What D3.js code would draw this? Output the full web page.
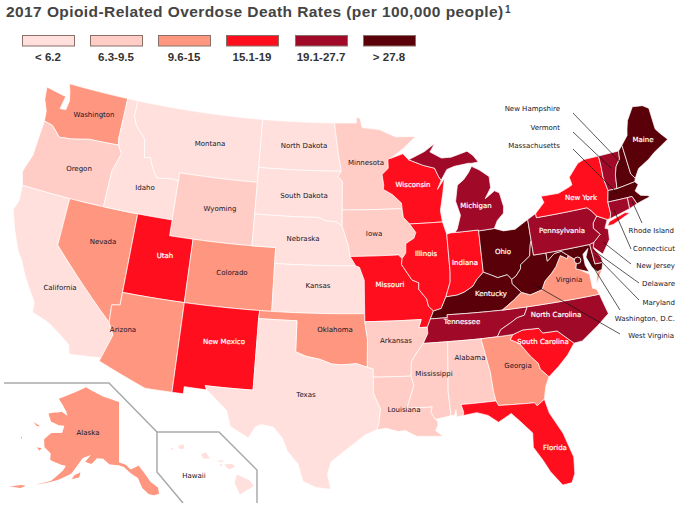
<!DOCTYPE html>
<html><head><meta charset="utf-8">
<script src="https://cdn.jsdelivr.net/npm/d3@7"></script>
<style>html,body{margin:0;padding:0;background:#fff}svg{display:block}</style>
</head><body><svg id="c" width="695" height="520"></svg>
<script>
// ---------- values ----------
const legendLabels = ["< 6.2","6.3-9.5","9.6-15","15.1-19","19.1-27.7","> 27.8"];
const legendColors = ["#ffe0dc","#ffcdc5","#ff9780","#ff0f1e","#a00a28","#5a0008"];
const class0 = ["California","Idaho","Montana","North Dakota","South Dakota","Nebraska","Kansas","Texas","Hawaii"];
const class1 = ["Oregon","Wyoming","Minnesota","Iowa","Arkansas","Louisiana","Mississippi","Alabama"];
const class2 = ["Washington","Nevada","Colorado","Arizona","Oklahoma","Georgia","Virginia","Alaska"];
const class3 = ["Utah","New Mexico","Wisconsin","Illinois","Indiana","Missouri","New York","South Carolina","Florida"];
const class4 = ["Michigan","Pennsylvania","Tennessee","North Carolina","Vermont","Connecticut","Rhode Island","New Jersey","Delaware"];
const class5 = ["Ohio","Kentucky","West Virginia","Maine","New Hampshire","Massachusetts","Maryland","Washington, D.C."];
const classes = [class0,class1,class2,class3,class4,class5];

// ---------- shared borders, lon/lat ----------
const rev = a => a.slice().reverse();
const mnWi = [[-92.0,46.7],[-92.29,46.66],[-92.29,46.07],[-92.87,45.7],[-92.75,45.0],[-92.8,44.75],[-92.0,44.4],[-91.25,43.85],[-91.22,43.5]];
const wiIa = [[-91.22,43.5],[-91.15,42.95],[-90.64,42.51]];
const iaIl = [[-90.64,42.51],[-90.15,41.95],[-90.34,41.6],[-91.05,41.3],[-91.1,40.7],[-91.42,40.38]];
const moIl = [[-91.42,40.38],[-91.5,40.0],[-90.7,39.0],[-90.15,38.8],[-90.2,38.4],[-89.6,37.75],[-89.5,37.3],[-89.13,36.98]];
const moKyTn = [[-89.13,36.98],[-89.42,36.5],[-89.7,36.0]];
const arTn = [[-89.7,36.0],[-89.7,35.6],[-90.1,35.0]];
const arMs = [[-90.1,35.0],[-90.6,34.5],[-91.1,33.9],[-91.17,33.0]];
const laMs = [[-91.17,33.0],[-91.0,32.4],[-91.6,31.0],[-89.73,31.0],[-89.85,30.65],[-89.55,30.2]];
const ilKy = [[-89.13,36.98],[-88.5,37.1],[-88.05,37.8]];
const inKy = [[-88.05,37.8],[-87.1,37.85],[-86.5,38.0],[-85.8,38.3],[-85.4,38.7],[-84.82,39.1]];
const ohKy = [[-84.82,39.1],[-84.3,38.9],[-83.7,38.65],[-82.9,38.75],[-82.59,38.42]];
const ohWv = [[-82.59,38.42],[-82.2,38.6],[-81.75,39.0],[-81.7,39.25],[-80.85,39.7],[-80.65,40.4],[-80.52,40.64]];
const kyWv = [[-82.59,38.42],[-82.6,38.15],[-81.97,37.54]];
const kyVa = [[-81.97,37.54],[-82.7,37.1],[-83.68,36.6]];
const kyTn = [[-83.68,36.6],[-86.5,36.65],[-88.07,36.68],[-88.07,36.5],[-89.42,36.5]];
const vaTn = [[-83.68,36.6],[-81.68,36.59]];
const vaNc = [[-81.68,36.59],[-75.87,36.55]];
const tnNc = [[-81.68,36.59],[-82.0,36.1],[-82.6,36.0],[-83.1,35.77],[-84.0,35.4],[-84.32,34.99]];
const tnGaAl = [[-84.32,34.99],[-85.6,34.98],[-88.2,35.0],[-90.1,35.0]];
const vaWv = [[-81.97,37.54],[-81.3,37.3],[-80.3,37.5],[-79.95,38.0],[-79.3,38.42],[-78.87,38.77],[-78.35,39.4],[-77.83,39.13],[-77.72,39.32]];
const mdWv = [[-77.72,39.32],[-78.2,39.65],[-78.8,39.6],[-79.48,39.2],[-79.48,39.72]];
const nyPa = [[-79.76,42.27],[-79.76,42.0],[-75.35,42.0],[-75.05,41.75],[-74.7,41.36]];
const njPa = [[-74.7,41.36],[-75.13,40.97],[-75.2,40.65],[-74.75,40.2],[-75.4,39.8]];
const ncSc = [[-78.55,33.86],[-79.67,34.8],[-80.8,34.82],[-81.05,35.15],[-82.3,35.2],[-83.1,35.0]];
const gaSc = [[-83.1,35.0],[-83.35,34.7],[-82.7,34.4],[-82.0,33.5],[-81.5,33.0],[-81.4,32.6],[-80.85,32.05]];
const flGa = [[-84.86,30.7],[-82.2,30.57],[-82.05,30.36],[-81.45,30.7]];
const alGa = [[-85.6,34.98],[-85.18,32.87],[-85.1,31.55],[-85.0,31.0]];
const txOk = [[-100.0,34.56],[-99.2,34.3],[-98.1,34.13],[-97.2,33.85],[-96.5,33.8],[-95.3,33.88],[-94.48,33.64]];
const txLa = [[-94.04,33.55],[-94.04,32.0],[-93.55,31.0],[-93.7,30.1],[-93.85,29.7]];
const arOk = [[-94.62,36.5],[-94.43,35.4],[-94.48,33.64]];
const moKs = [[-95.31,40.0],[-95.0,39.9],[-94.62,39.1],[-94.62,37.0]];
const neIa = [[-96.45,42.49],[-96.1,41.7],[-95.9,41.2],[-95.77,40.58]];
const sdNe = [[-96.45,42.49],[-97.0,42.75],[-97.9,42.8],[-98.5,43.0],[-104.05,43.0]];
const mnSd = [[-96.45,43.5],[-96.45,45.3],[-96.85,45.6],[-96.56,45.94]];
const mnNd = [[-96.56,45.94],[-96.8,46.9],[-97.23,49.0]];
const wiMi = [[-90.4,46.55],[-89.1,46.13],[-88.1,45.9],[-87.8,45.35],[-87.6,45.1]];
const ilIn = [[-87.53,41.7],[-87.53,39.35],[-87.6,38.7],[-88.05,37.8]];
const inOh = [[-84.8,41.7],[-84.82,39.1]];
const wiIl = [[-90.64,42.51],[-87.8,42.49]];
const waOr = [[-124.0,46.27],[-123.2,46.15],[-122.8,45.9],[-122.3,45.55],[-121.2,45.65],[-119.6,45.92],[-119.0,45.93],[-116.92,45.99]];
const idOr = [[-116.92,45.99],[-116.5,45.5],[-117.0,44.3],[-117.03,42.0]];
const idMt = [[-116.05,49.0],[-116.05,48.0],[-115.7,47.45],[-114.7,46.7],[-114.4,45.55],[-113.9,45.65],[-113.45,44.95],[-113.0,44.45],[-111.5,44.55],[-111.05,44.48]];
const azCa = [[-114.63,35.0],[-114.15,34.27],[-114.72,32.72]];
const azNv = [[-114.05,37.0],[-114.05,36.2],[-114.7,36.1],[-114.63,35.0]];
const vtNh = [[-71.5,45.0],[-71.6,44.5],[-72.05,44.1],[-72.3,43.6],[-72.46,42.73]];
const nyVt = [[-73.35,45.0],[-73.35,44.3],[-73.4,43.6],[-73.25,42.75]];
const nhMe = [[-71.08,45.3],[-70.98,43.4],[-70.7,43.07]];

// ---------- state outlines, lon/lat ----------
const outlines = {
 "Washington":[[[-124.7,48.38],[-123.1,48.18],[-122.75,48.15],[-122.95,47.3],[-122.4,47.35],[-122.3,47.95],[-122.5,48.5],[-122.75,49.0],[-117.03,49.0],[-117.04,46.42],...rev(waOr),[-124.1,46.9],[-124.55,47.6]]],
 "Oregon":[[...waOr,...idOr,[-124.2,42.0],[-124.55,42.85],[-124.1,44.0]]],
 "California":[[[-124.2,42.0],[-120.0,42.0],[-120.0,39.0],...azCa,[-117.12,32.53],[-117.3,33.1],[-118.4,33.75],[-119.2,34.15],[-120.6,34.55],[-120.65,35.15],[-121.9,36.6],[-122.5,37.5],[-123.0,38.0],[-123.8,39.3],[-124.35,40.4],[-124.1,41.0]]],
 "Nevada":[[[-120.0,42.0],[-114.04,42.0],...azNv,[-120.0,39.0]]],
 "Idaho":[[[-117.03,49.0],...idMt,[-111.05,42.0],[-117.03,42.0],...rev(idOr),[-117.04,46.42]]],
 "Montana":[[...idMt,[-111.05,45.0],[-104.05,45.0],[-104.05,49.0]]],
 "Wyoming":[[[-111.05,45.0],[-104.05,45.0],[-104.05,41.0],[-111.05,41.0]]],
 "Utah":[[[-114.04,42.0],[-111.05,42.0],[-111.05,41.0],[-109.05,41.0],[-109.05,37.0],[-114.05,37.0]]],
 "Colorado":[[[-109.05,41.0],[-102.05,41.0],[-102.04,37.0],[-109.05,37.0]]],
 "Arizona":[[[-114.05,37.0],[-109.05,37.0],[-109.05,31.33],[-111.07,31.33],[-114.8,32.5],...rev(azCa),...rev(azNv).slice(1,-1)]],
 "New Mexico":[[[-109.05,37.0],[-103.0,37.0],[-103.04,36.5],[-103.06,32.0],[-106.65,32.0],[-106.5,31.75],[-108.2,31.78],[-108.2,31.33],[-109.05,31.33]]],
 "North Dakota":[[[-104.05,49.0],[-97.23,49.0],...rev(mnNd),[-104.05,45.94]]],
 "South Dakota":[[[-104.05,45.94],[-96.56,45.94],...rev(mnSd),...sdNe]],
 "Nebraska":[[[-104.05,43.0],...rev(sdNe).slice(1),...neIa.slice(1),[-95.31,40.0],[-102.05,40.0],[-102.05,41.0],[-104.05,41.0]]],
 "Kansas":[[[-102.05,40.0],...moKs,[-102.04,37.0]]],
 "Oklahoma":[[[-103.0,37.0],[-94.62,37.0],...arOk,...rev(txOk).slice(1),[-100.0,36.5],[-103.04,36.5]]],
 "Texas":[[[-106.65,32.0],[-103.06,32.0],[-103.04,36.5],[-100.0,36.5],...txOk,...txLa,[-94.7,29.4],[-95.9,28.6],[-97.15,27.7],[-97.4,26.9],[-97.15,25.95],[-98.2,26.05],[-99.1,26.4],[-99.5,27.5],[-100.3,28.3],[-100.7,29.1],[-101.4,29.77],[-102.3,29.88],[-102.7,29.7],[-103.15,28.98],[-104.5,29.6],[-104.9,30.6],[-106.5,31.75]]],
 "Minnesota":[[[-97.23,49.0],[-95.15,49.0],[-95.15,49.38],[-94.8,49.3],[-94.6,48.7],[-93.0,48.55],[-91.5,48.05],[-89.6,48.0],[-90.8,47.3],...mnWi,[-96.45,43.5],...mnSd.slice(1),...mnNd.slice(1,-1)]],
 "Iowa":[[[-96.45,43.5],[-91.22,43.5],...wiIa.slice(1),...iaIl.slice(1),[-91.73,40.61],...rev(neIa)]],
 "Missouri":[[[-95.77,40.58],[-91.73,40.61],...moIl,...moKyTn.slice(1),[-90.38,36.0],[-90.15,36.5],[-94.62,36.5],...rev(moKs)]],
 "Arkansas":[[[-94.62,36.5],[-90.15,36.5],[-90.38,36.0],...arTn,...arMs.slice(1),[-94.04,33.02],[-94.04,33.55],[-94.48,33.64],[-94.43,35.4]]],
 "Louisiana":[[[-94.04,33.02],...laMs,[-89.4,30.05],[-89.4,29.8],[-89.6,29.5],[-89.1,29.1],[-90.1,29.15],[-91.0,29.2],[-91.8,29.6],[-92.3,29.55],[-93.2,29.78],[-93.85,29.7],[-93.7,30.1],[-93.55,31.0],[-94.04,32.0]]],
 "Wisconsin":[[...rev(mnWi),[-90.9,46.95],...wiMi,[-88.0,44.55],[-87.3,45.2],[-87.55,44.3],[-87.9,43.2],[-87.8,42.49],...rev(wiIl),...rev(wiIa).slice(1,-1)]],
 "Illinois":[[...wiIl,...ilIn,...rev(ilKy),...rev(moIl),...rev(iaIl).slice(0,-1)]],
 "Indiana":[[[-87.53,41.7],[-87.2,41.76],[-86.82,41.76],[-84.8,41.76],...inOh,...rev(inKy),...rev(ilIn).slice(1,-1)]],
 "Ohio":[[[-84.8,41.7],[-83.45,41.73],[-82.7,41.5],[-81.7,41.5],[-80.52,41.98],...rev(ohWv),...rev(ohKy)]],
 "Michigan":[[[-86.82,41.76],[-84.8,41.76],[-84.8,41.7],[-83.45,41.73],[-83.1,42.2],[-82.5,42.6],[-82.4,43.0],[-82.6,43.9],[-83.0,44.07],[-83.9,43.65],[-83.3,44.3],[-83.3,45.0],[-84.1,45.5],[-84.75,45.78],[-85.1,45.4],[-85.6,45.0],[-86.2,44.7],[-86.5,43.7],[-86.2,42.8],[-86.6,41.95]],
   [...wiMi,[-87.0,45.75],[-86.3,45.9],[-85.0,46.0],[-84.7,45.97],[-84.1,46.0],[-84.5,46.45],[-85.0,46.77],[-86.5,46.5],[-87.4,46.5],[-88.4,46.95],[-87.9,47.45],[-88.9,47.0]]],
 "Kentucky":[[...ilKy,...inKy.slice(1),...ohKy.slice(1),...kyWv.slice(1),...kyVa.slice(1),...kyTn.slice(1)]],
 "Tennessee":[[[-89.7,36.0],[-89.42,36.5],...rev(kyTn).slice(1),...vaTn.slice(1),...tnNc.slice(1),...tnGaAl.slice(1),...rev(arTn).slice(1,-1)]],
 "Mississippi":[[[-90.1,35.0],[-88.2,35.0],[-88.47,31.9],[-88.4,30.35],...rev(laMs),...rev(arMs).slice(1,-1)]],
 "Alabama":[[[-88.2,35.0],...alGa,[-87.6,31.0],[-87.45,30.5],[-87.5,30.3],[-88.0,30.25],[-88.0,30.7],[-88.15,30.35],[-88.4,30.35],[-88.47,31.9]]],
 "Georgia":[[...alGa.slice(0,1),[-84.32,34.99],...gaSc,[-81.2,31.5],...rev(flGa),[-85.0,31.0],...rev(alGa).slice(1,-1)]],
 "Florida":[[[-87.6,31.0],[-85.0,31.0],...flGa,[-81.25,29.8],[-80.5,28.4],[-80.03,26.8],[-80.15,25.75],[-80.45,25.2],[-81.1,25.15],[-81.8,26.1],[-82.2,26.9],[-82.75,27.8],[-82.65,28.7],[-83.4,29.5],[-84.0,30.1],[-85.0,29.65],[-85.7,30.15],[-86.5,30.4],[-87.5,30.3],[-87.45,30.5]]],
 "South Carolina":[[...ncSc,...gaSc.slice(1),[-80.0,32.6],[-79.2,33.2]]],
 "North Carolina":[[...vaNc,[-75.5,35.25],[-76.5,34.65],[-77.9,33.9],...ncSc,[-84.32,34.99],...rev(tnNc).slice(1,-1)]],
 "Virginia":[[[-83.68,36.6],...vaNc,[-76.0,36.9],[-76.3,37.0],[-76.3,37.9],[-77.0,38.3],[-77.3,38.4],[-77.1,38.9],...rev(vaWv),...rev(kyVa).slice(1,-1)],
   [[-75.95,37.15],[-75.65,37.95],[-75.25,38.03]]],
 "West Virginia":[[...ohWv,[-80.52,39.72],[-79.48,39.72],...rev(mdWv).slice(1),...rev(vaWv).slice(1),...rev(kyWv).slice(1,-1)]],
 "Maryland":[[[-79.48,39.72],[-75.79,39.72],[-75.7,38.46],[-75.05,38.45],[-75.25,38.03],[-75.65,37.95],[-76.0,38.3],[-76.3,39.0],[-76.0,39.5],[-76.5,39.2],[-76.5,38.5],[-76.3,38.05],[-77.0,38.3],[-77.3,38.4],[-77.1,38.9],...mdWv.slice(0,-1)]],
 "Delaware":[[[-75.79,39.72],[-75.4,39.8],[-75.55,39.45],[-75.1,38.8],[-75.05,38.45],[-75.7,38.46]]],
 "New Jersey":[[[-74.7,41.36],[-73.9,41.0],[-74.25,40.5],[-74.0,40.4],[-74.1,39.75],[-74.9,38.95],[-75.55,39.5],...rev(njPa).slice(0,-1)]],
 "Pennsylvania":[[[-80.52,41.98],...nyPa,...njPa.slice(1),[-75.79,39.72],[-80.52,39.72],[-80.52,40.64]]],
 "New York":[[[-79.76,42.27],[-78.9,42.85],[-79.05,43.27],[-77.5,43.25],[-76.5,43.5],[-76.2,43.6],[-76.3,44.1],[-75.3,44.85],[-74.7,45.0],...nyVt,[-73.5,42.05],[-73.5,41.3],[-73.65,41.0],[-73.9,41.0],...rev(nyPa).slice(0,-1)],
   [[-74.0,40.6],[-73.75,40.85],[-72.3,41.15],[-71.9,41.07],[-73.5,40.6]]],
 "Vermont":[[[-73.35,45.0],...vtNh,...rev(nyVt).slice(0,-1)]],
 "New Hampshire":[[...vtNh.slice(0,1),...nhMe,[-70.82,42.87],...rev(vtNh).slice(0,-1)]],
 "Maine":[[...nhMe.slice(0,1),[-70.4,45.8],[-70.25,46.2],[-70.0,46.7],[-69.22,47.46],[-68.3,47.35],[-67.8,47.07],[-67.8,45.7],[-67.45,45.3],[-67.0,44.85],[-68.5,44.3],[-69.1,44.0],[-70.2,43.6],[-70.7,43.07],[-70.98,43.4]]],
 "Massachusetts":[[[-73.5,42.05],[-73.25,42.75],[-72.46,42.73],[-70.82,42.87],[-70.6,42.65],[-71.0,42.3],[-70.65,41.95],[-70.0,41.8],[-70.2,42.07],[-69.95,41.7],[-70.6,41.6],[-71.13,41.5],[-71.38,42.02],[-71.8,42.02]]],
 "Rhode Island":[[[-71.8,42.02],[-71.38,42.02],[-71.13,41.5],[-71.85,41.32]]],
 "Connecticut":[[[-73.5,42.05],[-71.8,42.02],[-71.85,41.32],[-73.65,41.0],[-73.5,41.3]]]
};
const alaskaRings = [
 [[-141,69.65],[-144,70.0],[-148.5,70.4],[-152,70.85],[-156.5,71.35],[-160,70.4],[-163,69.5],[-166.5,68.35],[-164,67.6],[-162,66.9],[-161,66.3],[-163.5,66.6],[-166,66.1],[-168,65.6],[-166,64.6],[-163,64.5],[-161,64.7],[-161,63.5],[-164.5,63.0],[-166,61.7],[-165,60.6],[-162.5,60.0],[-162,59.0],[-158.5,58.8],[-157,58.8],[-157.5,58.0],[-160,56.0],[-163.5,54.8],[-162,55.2],[-158,56.5],[-155,57.8],[-153.9,59.0],[-152.5,60.5],[-150,61.2],[-151.5,60.0],[-149.5,59.8],[-148,60.8],[-146,60.8],[-144,60.0],[-141,59.9],[-139.5,59.6],[-137.5,58.6],[-135.5,57.8],[-134.5,56.2],[-133,55.2],[-131.5,54.9],[-130.2,55.0],[-130.2,56.0],[-132,57.0],[-133.5,58.5],[-135,59.7],[-137.5,59.2],[-139,60.0],[-141,60.3]],
 [[-154.5,57.0],[-152.5,57.5],[-152.4,58.3],[-154,57.7]],
 [[-167.2,60.1],[-165.7,60.3],[-166,59.8]],
 [[-171.7,63.5],[-168.9,63.3],[-170,63.1]],
 [[-173,60.65],[-172.5,60.4],[-172.9,60.3]],
 [[-170,52.9],[-167,53.4],[-166,54.0],[-167,53.9],[-169,53.2]]
];
const hawaiiRings = [
 [[-155.9,20.25],[-155.1,19.9],[-154.8,19.5],[-155.7,18.95],[-156.05,19.7]],
 [[-156.7,20.9],[-156.25,20.95],[-156.0,20.75],[-156.4,20.58],[-156.65,20.8]],
 [[-158.25,21.55],[-157.95,21.7],[-157.65,21.3],[-158.1,21.3]],
 [[-159.75,22.1],[-159.4,22.23],[-159.3,21.95],[-159.6,21.9]],
 [[-160.25,21.95],[-160.05,22.0],[-160.1,21.85]],
 [[-157.3,21.15],[-156.75,21.17],[-156.85,21.05]],
 [[-157.05,20.9],[-156.85,20.92],[-156.9,20.75]]
];

// ---------- label and leader placement ----------
const innerLabels = [["Washington",94,115],["Oregon",79,169],["Idaho",145,188],["Montana",210,144],["North Dakota",304,146],["South Dakota",304,196],["Wyoming",220,209],["Nebraska",303,239],["Minnesota",366,163],["Iowa",374,234],["Wisconsin",413,185],["Michigan",476,206],["California",60,288],["Nevada",103,242],["Utah",165,256],["Colorado",232,273],["Kansas",318,286],["Missouri",390,285],["Illinois",426,254],["Indiana",465,263],["Ohio",503,252],["Kentucky",491,294],["Tennessee",462,322],["Virginia",569,280],["North Carolina",556,315],["South Carolina",543,342],["Georgia",518,366],["Florida",555,448],["Alabama",470,358],["Mississippi",434,374],["Louisiana",404,410],["Arkansas",396,341],["Oklahoma",335,330],["Texas",306,395],["New Mexico",224,342],["Arizona",123,330],["Pennsylvania",562,231],["New York",581,198],["Maine",643,140],["Alaska",88,433],["Hawaii",194,476]];
const leftLabels = [["New Hampshire",560,109,573,113,624,166],["Vermont",560,128,573,132,611,168],["Massachusetts",560,146,573,149,617,193]];
const rightLabels = [["Rhode Island",674,231,642,223,632,201],["Connecticut",675,249,631,249,614,210],["New Jersey",675,266,631,264,603,242],["Delaware",675,284,639,283,593,250],["Maryland",675,303,639,300,595,255],["Washington, D.C.",675,319,620,310,587,257],["West Virginia",674,336,620,334,533,284]];
const insetFrame = [[[4,383],[109,383],[157,432],[219,432],[257,470],[257,503]],[[157,432],[157,472],[183,503]]];
const legendX = [22,90,158,226,295,363];

// ---------- drawing ----------
const svg = d3.select("#c");
const colorOf = {};
classes.forEach((names,i)=>names.forEach(n=>colorOf[n]=legendColors[i]));

const conus = d3.geoAlbers().parallels([29.5,45.5]).rotate([96,0]).center([0,37.5]).scale(908).translate([347.4,305.8]);
const alaskaProj = d3.geoAlbers().parallels([55,65]).rotate([141,0]).center([0,69.65]).scale(372).translate([119,402]);
const hawaiiProj = d3.geoEquirectangular().rotate([157,0]).center([0,21]).scale(880).translate([220,463]);

// add vertices along long straight lon/lat edges so parallels stay curved
function dense(ring){
  const out=[];
  ring.forEach((p,i)=>{
    const q=ring[(i+1)%ring.length];
    const n=Math.max(1,Math.ceil(Math.max(Math.abs(q[0]-p[0]),Math.abs(q[1]-p[1]))));
    for(let k=0;k<n;k++) out.push([p[0]+(q[0]-p[0])*k/n,p[1]+(q[1]-p[1])*k/n]);
  });
  return out;
}
function feature(rings){
  const polys=rings.map(r=>{
    const ring=dense(r); ring.push(ring[0]);
    const f={type:"Polygon",coordinates:[ring]};
    return d3.geoArea(f)>2*Math.PI ? [ring.slice().reverse()] : [ring];
  });
  return {type:"MultiPolygon",coordinates:polys};
}
const mapG = svg.append("g");
const stateList = Object.keys(outlines);
mapG.selectAll("path.state").data(stateList).join("path").attr("class","state")
  .attr("d",n=>d3.geoPath(conus)(feature(outlines[n])))
  .attr("fill",n=>colorOf[n]).attr("stroke","#fff").attr("stroke-width",0.7).attr("stroke-linejoin","round");
mapG.append("path").attr("d",d3.geoPath(alaskaProj)(feature(alaskaRings))).attr("fill",colorOf["Alaska"]);
mapG.append("path").attr("d",d3.geoPath(hawaiiProj)(feature(hawaiiRings))).attr("fill",colorOf["Hawaii"]);
const dc = conus([-77.03,38.9]);
mapG.append("circle").attr("cx",dc[0]).attr("cy",dc[1]).attr("r",3.3).attr("fill",colorOf["Washington, D.C."]).attr("stroke","#fff").attr("stroke-width",0.9);

svg.append("g").selectAll("path").data(insetFrame).join("path")
  .attr("d",d3.line()).attr("fill","none").attr("stroke","#aaa").attr("stroke-width",1.5);

const labelFont="'DejaVu Sans',Verdana,sans-serif";
const lights=new Set([...class3,...class4,...class5]);
svg.append("g").selectAll("text").data(innerLabels).join("text")
  .attr("x",d=>d[1]).attr("y",d=>d[2]).attr("dy","0.35em").attr("text-anchor","middle")
  .attr("font-family",labelFont).attr("font-size",7)
  .attr("stroke",d=>lights.has(d[0])?"#fff":"none").attr("stroke-width",0.2)
  .attr("fill",d=>lights.has(d[0])?"#fff":"#141428").text(d=>d[0]);

const leaders=[...leftLabels,...rightLabels];
svg.append("g").selectAll("line").data(leaders).join("line")
  .attr("x1",d=>d[3]).attr("y1",d=>d[4]).attr("x2",d=>d[5]).attr("y2",d=>d[6])
  .attr("stroke","#111").attr("stroke-width",0.7);
svg.append("g").selectAll("text.out").data(leaders).join("text").attr("class","out")
  .attr("x",d=>d[1]).attr("y",d=>d[2]).attr("dy","0.35em").attr("text-anchor","end")
  .attr("font-family",labelFont).attr("font-size",7).attr("fill","#141428").text(d=>d[0]);

// title
svg.append("text").attr("x",6).attr("y",17).attr("font-family","'Liberation Sans',Arial,sans-serif")
  .attr("font-weight","bold").attr("font-size",15.5).attr("letter-spacing",0.42).attr("fill","#444").text("2017 Opioid-Related Overdose Death Rates (per 100,000 people)");
svg.append("text").attr("x",505).attr("y",13).attr("font-family","'Liberation Sans',Arial,sans-serif")
  .attr("font-weight","bold").attr("font-size",10).attr("fill","#444").text("1");

// legend
const leg=svg.append("g").selectAll("g").data(legendLabels).join("g");
leg.append("rect").attr("x",(d,i)=>legendX[i]+0.5).attr("y",35.5).attr("width",52).attr("height",10.5)
  .attr("fill",(d,i)=>legendColors[i]).attr("stroke","#8a7068").attr("stroke-width",1);
leg.append("text").attr("x",(d,i)=>legendX[i]+26).attr("y",61).attr("text-anchor","middle")
  .attr("font-family","'Liberation Sans',Arial,sans-serif").attr("font-weight","bold").attr("font-size",11.5).attr("fill","#333").text(d=>d);
</script></body></html>
